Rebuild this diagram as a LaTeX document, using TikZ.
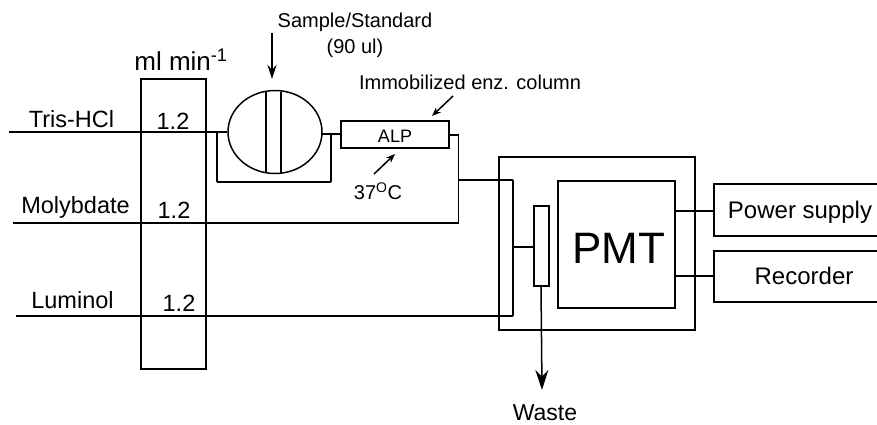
\documentclass[tikz,border=0pt]{standalone}
\usepackage{amsmath}
\usepackage{fontspec}
\setmainfont{Liberation Sans}
\usetikzlibrary{arrows.meta,shapes}
\tikzstyle{unit} = [draw,line width=1.5pt,fill=none,inner sep=0pt]
\tikzstyle{note} = [draw=none,inner sep=0pt,align=center,node font=\fontsize{20}{24}\selectfont]
\tikzstyle{channel} = [draw=none,inner sep=0pt,node font=\fontsize{23.5}{26}\selectfont]
\tikzstyle{edge} = [draw,line width=1.5pt,-]
\tikzstyle{pointer} = [draw,line width=1.5pt,-{Stealth[length=9pt,width=7pt]}]
\tikzstyle{big pointer} = [draw,line width=1.5pt,-{Stealth[length=14pt,width=9pt]}]
\tikzstyle{waste pointer} = [draw,line width=1.5pt,-{Stealth[length=20pt,width=13pt]}]
\begin{document}
\begin{tikzpicture}[x=1pt,y=-1pt]
	\useasboundingbox (0,0) rectangle (877,424);
	% First we draw the boxes
	\foreach \pos/\name/\boxw/\boxh in {
		{(173.5,224)/flow/65/290},
		{(395,134.5)/column/108/27},
		{(597,243.5)/housing/196/173},
		{(541.5,246)/cell/15/80},
		{(616.5,244.5)/detector/117/127},
		{(797,210)/power/166/52},
		{(797,276.5)/recorder/166/51}}
	\node[unit, minimum width=\boxw pt, minimum height=\boxh pt] (\name) at \pos{};

	% The valve and its slot
	\node[unit, ellipse, minimum width=94pt, minimum height=83pt] (valve) at (275,132){};
	\coordinate (slot1t) at (266,92);
	\coordinate (slot1b) at (266,172);
	\coordinate (slot2t) at (281,92);
	\coordinate (slot2b) at (281,173);

	% Free ends and bends of the lines
	\foreach \pos/\name in {
		{(9,132)/trisin},
		{(217,132)/loopa},
		{(217,182)/loopb},
		{(331,182)/loopc},
		{(331,134)/loopd},
		{(322,134)/valveout},
		{(458.5,135)/outa},
		{(458.5,180)/outb},
		{(458.5,223)/molyend},
		{(13,223)/molyin},
		{(16,316)/lumiin},
		{(513,316)/lumiend},
		{(513,180)/mixa},
		{(513,247)/mixb},
		{(534,247)/cellin},
		{(541,286)/cellout},
		{(542,390)/wasteend},
		{(675,211)/powa},
		{(714,211)/powb},
		{(675,276)/reca},
		{(715,276)/recb},
		{(341,134)/colin},
		{(449,135)/colout},
		{(272,33)/samplea},
		{(272,79)/sampleb},
		{(453,96)/enza},
		{(432,116)/enzb},
		{(374,174)/tempa},
		{(395,154)/tempb}}
	\path \pos coordinate (\name);

	% Labels
	\foreach \pos/\name/\txt in {
		{(355,22)/samplelabel/{Sample/Standard}},
		{(355,48)/volumelabel/(90 ul)},
		{(470,82)/enzlabel/Immobilized enz. column},
		{(378,191)/templabel/37\textsuperscript{O}C}}
	\node[note] (\name) at \pos{\txt};

	\foreach \pos/\name/\txt in {
		{(71.5,119)/trislabel/Tris-HCl},
		{(75.5,207)/molylabel/Molybdate},
		{(72.5,300)/lumilabel/Luminol},
		{(173,121)/ratea/1.2},
		{(174,210)/rateb/1.2},
		{(179,303)/ratec/1.2}}
	\node[channel] (\name) at \pos{\txt};

	\node[draw=none, inner sep=0pt, node font=\fontsize{26}{30}\selectfont] (unitlabel) at (181,60){ml min\textsuperscript{-1}};
	\node[draw=none, inner sep=0pt, node font=\fontsize{23}{26}\selectfont] (wastelabel) at (545,413){Waste};
	\node[draw=none, inner sep=0pt, node font=\fontsize{44}{50}\selectfont] (pmtlabel) at (619,248){PMT};
	\node[draw=none, inner sep=0pt, node font=\fontsize{24}{28}\selectfont] (powerlabel) at (800,212){Power supply};
	\node[draw=none, inner sep=0pt, node font=\fontsize{24}{28}\selectfont] (recorderlabel) at (804,276){Recorder};
	\node[draw=none, inner sep=0pt, node font=\fontsize{18}{20}\selectfont] (alplabel) at (395,136){ALP};

	% Connect everything with edges
	\foreach \source/\dest in {
		slot1t/slot1b,
		slot2t/slot2b,
		trisin/valve.west,
		loopa/loopb,
		loopb/loopc,
		loopc/loopd,
		valveout/colin,
		colout/outa,
		outa/molyend,
		molyin/molyend,
		outb/mixa,
		lumiin/lumiend,
		mixa/lumiend,
		mixb/cellin,
		powa/powb,
		reca/recb}
	\path[edge] (\source) -- (\dest);

	\foreach \source/\dest in {
		enza/enzb,
		tempa/tempb}
	\path[pointer] (\source) -- (\dest);

	\path[big pointer] (samplea) -- (sampleb);
	\path[waste pointer] (cellout) -- (wasteend);
\end{tikzpicture}
\end{document}
